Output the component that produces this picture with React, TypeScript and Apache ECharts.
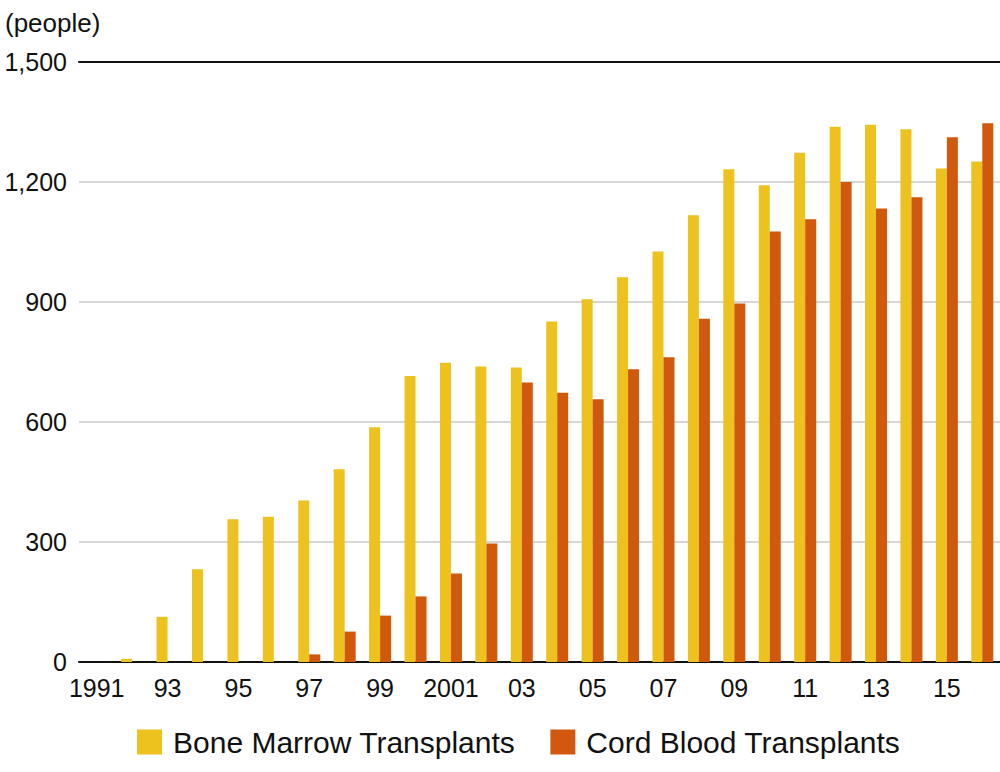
import React, { useEffect, useRef } from "react";
import * as echarts from "echarts";

const categories = [
  "1991", "92", "93", "94", "95", "96", "97", "98", "99", "2000",
  "2001", "02", "03", "04", "05", "06", "07", "08", "09", "10",
  "11", "12", "13", "14", "15", "16",
];

const boneMarrow = [
  0, 8, 113, 232, 357, 363, 404, 482, 587, 715,
  748, 739, 736, 851, 907, 962, 1026, 1117, 1232, 1192,
  1273, 1338, 1343, 1332, 1234, 1251,
];

const cordBlood = [
  0, 0, 0, 0, 0, 0, 19, 76, 116, 164,
  221, 296, 699, 673, 657, 732, 762, 858, 896, 1076,
  1107, 1200, 1134, 1162, 1312, 1347,
];

const seriesNames = ["Bone Marrow Transplants", "Cord Blood Transplants"];
const yTicks = { min: 0, max: 1500, interval: 300 };
const unitLabel = "(people)";

const FONT = '"Liberation Sans", Arial, Helvetica, sans-serif';

export default function App() {
  const ref = useRef<HTMLDivElement>(null);

  useEffect(() => {
    if (!ref.current) return;
    const chart = echarts.init(ref.current, undefined, { renderer: "svg" });
    chart.setOption({
      animation: false,
      backgroundColor: "#ffffff",
      textStyle: { fontFamily: FONT },
      grid: { left: 79, right: 0, top: 62, bottom: 110 },
      graphic: [
        {
          type: "text",
          left: 5,
          top: 10,
          style: {
            text: unitLabel,
            font: `26px ${FONT}`,
            fill: "#111",
          },
        },
      ],
      legend: {
        left: 137,
        top: 727,
        padding: 0,
        itemWidth: 25,
        itemHeight: 25,
        itemGap: 35,
        icon: "rect",
        data: seriesNames,
        textStyle: {
          fontSize: 30,
          color: "#111",
          fontFamily: FONT,
          padding: [0, 0, 0, 6],
        },
      },
      xAxis: [
        {
          type: "category",
          data: categories,
          position: "bottom",
          axisLine: { show: true, lineStyle: { color: "#111", width: 2 } },
          axisTick: { show: false },
          axisLabel: {
            interval: 1,
            fontSize: 25,
            color: "#111",
            margin: 13,
            fontFamily: FONT,
          },
        },
        {
          type: "category",
          data: categories,
          position: "top",
          axisLine: { show: true, lineStyle: { color: "#111", width: 2 } },
          axisTick: { show: false },
          axisLabel: { show: false },
        },
      ],
      yAxis: {
        type: "value",
        min: yTicks.min,
        max: yTicks.max,
        interval: yTicks.interval,
        axisLine: { show: false },
        axisTick: { show: false },
        axisLabel: {
          fontSize: 25,
          color: "#111",
          margin: 12,
          fontFamily: FONT,
          formatter: (v: number) => v.toLocaleString("en-US"),
        },
        splitLine: { show: true, lineStyle: { color: "#c8c8c8", width: 1.5 } },
      },
      series: [
        {
          name: seriesNames[0],
          type: "bar",
          data: boneMarrow,
          barWidth: 11,
          barGap: "0%",
          itemStyle: { color: "#EDC11E" },
        },
        {
          name: seriesNames[1],
          type: "bar",
          data: cordBlood,
          barWidth: 11,
          barGap: "0%",
          itemStyle: { color: "#D1590D" },
        },
      ],
    });
    return () => chart.dispose();
  }, []);

  return (
    <div
      ref={ref}
      style={{ position: "absolute", left: 0, top: 0, width: 1000, height: 772 }}
    />
  );
}
